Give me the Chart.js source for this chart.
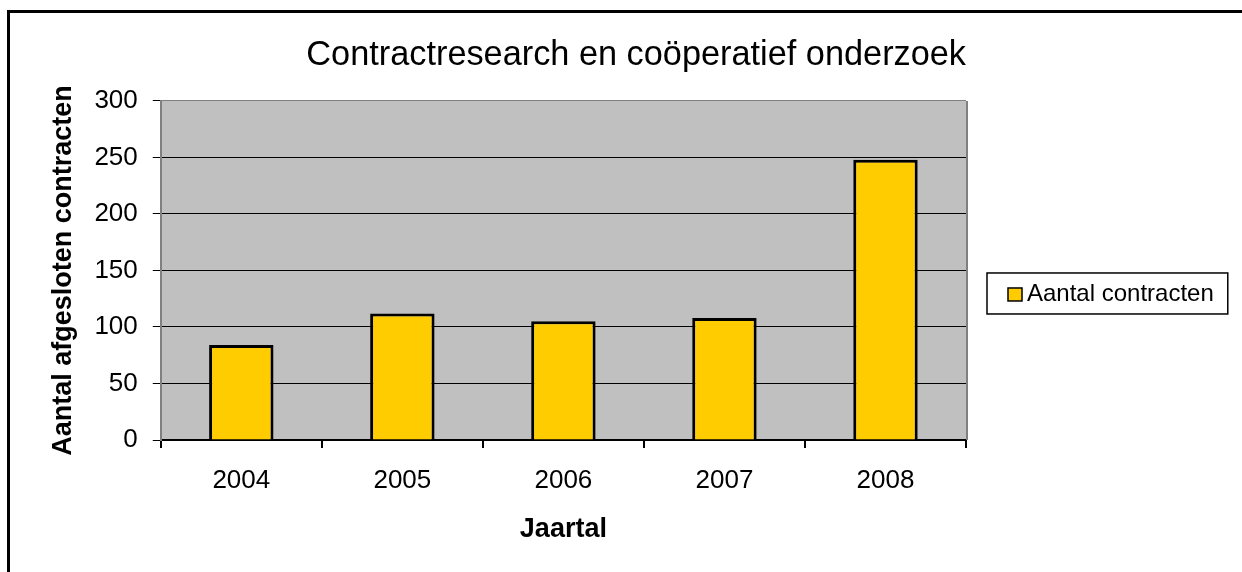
<!DOCTYPE html>
<html>
<head>
<meta charset="utf-8">
<script src="https://cdn.jsdelivr.net/npm/chart.js@4.4.0/dist/chart.umd.min.js"></script>
<style>
  html, body { margin: 0; padding: 0; background: #fff; }
</style>
</head>
<body>
<canvas id="myChart" width="1242" height="572"></canvas>
<script>
// chart data
const years = ['2004', '2005', '2006', '2007', '2008'];
const contracts = [84, 112, 105, 108, 248];
const seriesLabel = 'Aantal contracten';
const yMin = 0, yMax = 300, yStep = 50;

const FONT = '"Liberation Sans", Arial, sans-serif';

// gray plot background, outer frame and the plot's right edge
const plotArea = {
    id: 'plotArea',
    beforeDraw(chart) {
        const ctx = chart.ctx, a = chart.chartArea;
        ctx.save();
        ctx.fillStyle = '#fff';
        ctx.fillRect(0, 0, chart.width, chart.height);
        ctx.fillStyle = '#000';
        ctx.fillRect(7, 10, 3, chart.height);
        ctx.fillRect(7, 10, chart.width, 3);
        ctx.fillStyle = '#c0c0c0';
        ctx.fillRect(a.left, a.top, a.right - a.left, a.bottom - a.top);
        ctx.restore();
    },
    afterDatasetsDraw(chart) {
        const ctx = chart.ctx, a = chart.chartArea;
        ctx.save();
        ctx.strokeStyle = '#808080';
        ctx.lineWidth = 2;
        ctx.beginPath();
        ctx.moveTo(a.right + 1, a.top);
        ctx.lineTo(a.right + 1, a.bottom);
        ctx.stroke();
        ctx.restore();
    }
};

// boxed legend to the right of the plot
const boxLegend = {
    id: 'boxLegend',
    afterDraw(chart) {
        const ctx = chart.ctx, a = chart.chartArea;
        const ds = chart.data.datasets[0];
        ctx.save();
        ctx.font = '24px ' + FONT;
        const textW = ctx.measureText(ds.label).width;
        const x = a.right + 21;
        const h = 41;
        const y = (a.top + a.bottom) / 2 + 23 - h / 2;
        const w = 21 + 14 + 5 + textW + 14;
        ctx.strokeStyle = '#000';
        ctx.lineWidth = 1.5;
        ctx.strokeRect(x, y, w, h);
        ctx.fillStyle = ds.backgroundColor;
        ctx.fillRect(x + 21, y + 15, 14, 13);
        ctx.strokeRect(x + 21, y + 15, 14, 13);
        ctx.fillStyle = '#000';
        ctx.textBaseline = 'middle';
        ctx.fillText(ds.label, x + 40, y + h / 2 + 1);
        ctx.restore();
    }
};

var ctx = document.getElementById('myChart').getContext('2d');
var myChart = new Chart(ctx, {
    type: 'bar',
    data: {
        labels: years,
        datasets: [{
            label: seriesLabel,
            data: contracts,
            backgroundColor: '#ffcc00',
            borderColor: '#000',
            borderWidth: 3,
            barPercentage: 0.4,
            categoryPercentage: 1.0
        }]
    },
    options: {
        responsive: false,
        animation: false,
        devicePixelRatio: 1,
        layout: { padding: { left: 40, right: 276, top: 0, bottom: 0 } },
        plugins: {
            legend: { display: false },
            tooltip: { enabled: false },
            title: {
                display: true,
                text: 'Contractresearch en coöperatief onderzoek',
                align: 'end',
                color: '#000',
                font: { family: FONT, size: 34.3, weight: 'normal' },
                padding: { top: 35.4, bottom: 24.4 }
            }
        },
        scales: {
            x: {
                grid: {
                    offset: true,
                    drawOnChartArea: false,
                    tickLength: 8,
                    color: '#000',
                    lineWidth: 2
                },
                border: { color: '#000', width: 2 },
                ticks: { color: '#000', padding: 17, font: { family: FONT, size: 26 } },
                title: {
                    display: true,
                    text: 'Jaartal',
                    color: '#000',
                    font: { family: FONT, size: 27, weight: 'bold' },
                    padding: { top: 0.6, bottom: 25.8 }
                }
            },
            y: {
                min: yMin,
                max: yMax,
                ticks: { stepSize: yStep, color: '#000', padding: 15, font: { family: FONT, size: 26 } },
                grid: {
                    tickLength: 8,
                    color: c => (c.tick && c.tick.value === yMax) ? '#808080' : '#000',
                    tickColor: '#000',
                    lineWidth: 1
                },
                border: { color: '#808080', width: 2 },
                title: {
                    display: true,
                    text: 'Aantal afgesloten contracten',
                    color: '#000',
                    font: { family: FONT, size: 27, weight: 'bold' },
                    padding: { top: 7, bottom: 0 }
                }
            }
        }
    },
    plugins: [plotArea, boxLegend]
});
</script>
</body>
</html>
